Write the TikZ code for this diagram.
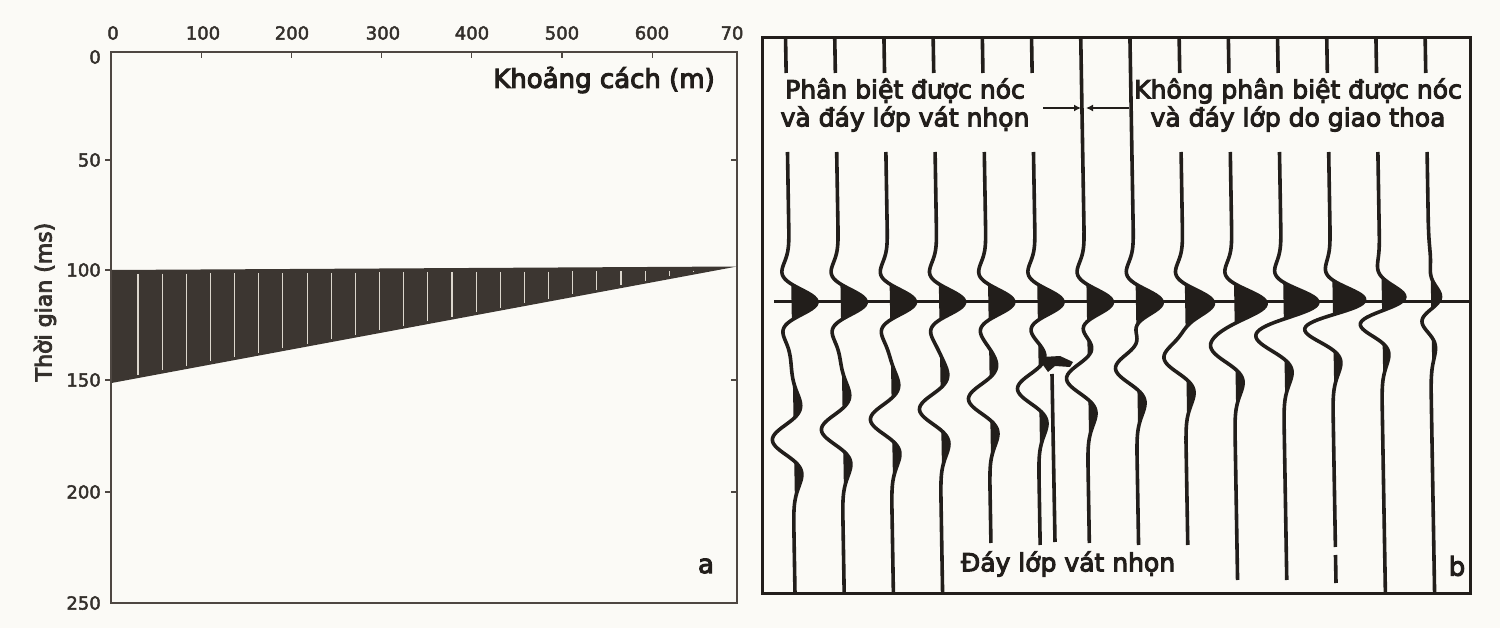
\documentclass[tikz,border=0pt]{standalone}
\usepackage{fontspec}
\setmainfont{DejaVu Sans}
\newfontfamily\lbfont{DejaVu Sans}[FakeBold=4]
\newfontfamily\tkfont{DejaVu Sans}[FakeBold=2.5]
\usetikzlibrary{arrows.meta}
\definecolor{bgc}{HTML}{FBFAF6}
\definecolor{inkc}{HTML}{221E1B}
\definecolor{axc}{HTML}{4E4742}
\definecolor{tkc}{HTML}{34302C}
\definecolor{wedgec}{HTML}{3C3631}
\definecolor{stripec}{HTML}{DCD7CD}
\begin{document}
\begin{tikzpicture}[x=1pt,y=-1pt,
  declare function={
    ra(\s)=(1-1.5*min(16,(0.0429*\s)*(0.0429*\s)))*exp(-min(16,(0.0429*\s)*(0.0429*\s)));
    rb(\s)=(1-2*min(16,(0.0355*\s)*(0.0355*\s)))*exp(-min(16,(0.0355*\s)*(0.0355*\s)));},
  trace/.style={draw=inkc,line width=3.6pt,line join=round},
  axis/.style={draw=axc,line width=1.6pt},
  tick/.style={draw=axc,line width=1.2pt},
  ticklab/.style={text=tkc,font=\tkfont\fontsize{18}{20}\selectfont,inner sep=0pt},
  lab/.style={text=inkc,font=\lbfont\fontsize{25}{28}\selectfont,inner sep=0pt,align=center},
  arr/.style={draw=inkc,line width=2.4pt,-{Latex[length=7pt,width=7pt]}}]
\useasboundingbox (0,0) rectangle (1500,628);
\fill[bgc] (0,0) rectangle (1500,628);

% ---------------- panel a ----------------
\fill[wedgec] (111.5,270) -- (737,266.5) -- (111.5,383) -- cycle;
\foreach \k in {0,...,23}{
  \pgfmathsetmacro\xq{138+24.15*\k}
  \pgfmathsetmacro\yqa{270-3.5/626*(\xq-111)+4}
  \pgfmathsetmacro\yqb{383-116.5/626*(\xq-111)-3}
  \draw[stripec,line width=1.1pt] (\xq,\yqa) -- (\xq,\yqb);
}
\draw[axis] (111,52) rectangle (737,603);
\foreach \k in {1,...,6}{
  \draw[tick] ({111+90.2*\k},52) -- ({111+90.2*\k},58);
}
\foreach \yy in {160,270,380,492}{
  \draw[tick] (105,\yy) -- (111,\yy);
}
\foreach \yy in {160,380,492}{
  \draw[tick] (737,\yy) -- (731,\yy);
}
\node[ticklab] (x0) at (113,33) {0};
\node[ticklab] (x1) at (203,33) {100};
\node[ticklab] (x2) at (292,33) {200};
\node[ticklab] (x3) at (383,33) {300};
\node[ticklab] (x4) at (472,33) {400};
\node[ticklab] (x5) at (562,33) {500};
\node[ticklab] (x6) at (652,33) {600};
\node[ticklab] (x7) at (732,33) {70};
\node[ticklab,anchor=east] (y0) at (101,57) {0};
\node[ticklab,anchor=east] (y1) at (101,160) {50};
\node[ticklab,anchor=east] (y2) at (101,270) {100};
\node[ticklab,anchor=east] (y3) at (101,380) {150};
\node[ticklab,anchor=east] (y4) at (101,492) {200};
\node[ticklab,anchor=east] (y5) at (101,603) {250};
\node[lab,text=tkc,font=\lbfont\fontsize{22}{24}\selectfont,rotate=90] (ylab) at (45,302) {Thời gian (ms)};
\node[lab,font=\lbfont\fontsize{26}{28}\selectfont] (xlab) at (604,80) {Khoảng cách (m)};
\node[lab,font=\lbfont\fontsize{26}{28}\selectfont] (pa) at (706,566) {a};

% ---------------- panel b ----------------
\foreach \i/\ys/\ye in {1/152/593,2/152/593,3/152/593,4/152/593,5/152/543,6/152/545,7/38/543,8/38/545,9/152/545,10/152/580,11/152/580,12/152/547,13/152/593,14/152/593}{
  \pgfmathsetmacro\xo{790+49.2*(\i-1)}
  \pgfmathsetmacro\tb{302+143/28*(29-2*\i)}
  \begin{scope}
    \clip ({\xo+1.5+0.017*(220-300)},220) -- ({\xo+1.5+0.017*(530-300)},530) -- ({\xo+90},530) -- ({\xo+90},220) -- cycle;
    \fill[inkc] plot[domain=220:530,samples=160,variable=\yy] ({\xo+0.017*(\yy-300)+27*ra(\yy-302)-20*rb(\yy-\tb)},\yy) -- ({\xo+0.017*(530-300)},530) -- ({\xo+0.017*(220-300)},220) -- cycle;
  \end{scope}
  \draw[trace] plot[domain=\ys:\ye,samples=220,variable=\yy] ({\xo+0.017*(\yy-300)+27*ra(\yy-302)-20*rb(\yy-\tb)},\yy);
  \ifnum\ys>100
    \draw[trace] ({\xo+0.017*(38-300)},38) -- ({\xo+0.017*(73-300)},73);
  \fi
}
% extra pieces
\draw[trace] (1335.5,555) -- (1336,583);
\draw[trace] (1052,374) -- (1055,542);
\fill[inkc] (1042,357) -- (1060,356) -- (1073,362) -- (1070,367) -- (1055,366) -- (1048,372) -- (1043,365) -- cycle;
% reflector line
\draw[draw=inkc,line width=3pt] (774,302) -- (1470,302);
% arrows
\draw[arr] (1043,108) -- (1081,108);
\draw[arr] (1129,108) -- (1086,108);
% frame
\draw[draw=inkc,line width=3pt] (762,38) rectangle (1470,593);
% labels
\node[lab] (t1) at (905,105) {Phân biệt được nóc\\và đáy lớp vát nhọn};
\node[lab] (t2) at (1298,105) {Không phân biệt được nóc\\và đáy lớp do giao thoa};
\node[lab] (t3) at (1068,564) {Đáy lớp vát nhọn};
\node[lab,font=\lbfont\fontsize{26}{28}\selectfont] (pb) at (1457,566) {b};
\end{tikzpicture}
\end{document}
